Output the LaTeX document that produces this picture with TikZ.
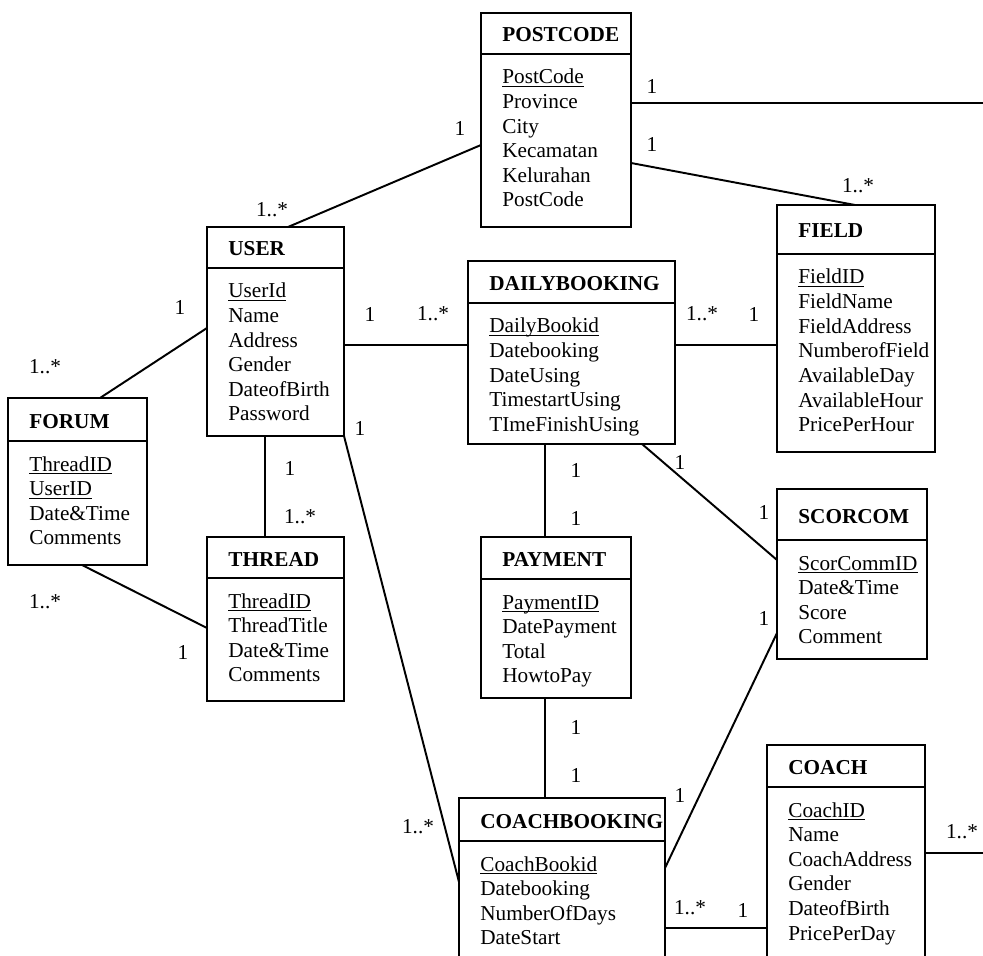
\documentclass[tikz,border=0pt]{standalone}
\usepackage{fontspec}
\setmainfont{Liberation Serif}
\usetikzlibrary{calc}
\usetikzlibrary{fit}

\newcommand{\erfont}{\fontsize{12}{14}\selectfont}
\newcommand{\keyattr}[1]{\underline{\smash{#1}}}

\tikzset{
  entity/.style={draw, line width=1.1pt, inner sep=0pt, outer sep=0pt},
  enttitle/.style={font=\erfont\bfseries, inner sep=0pt},
  attr/.style={font=\erfont, inner sep=0pt},
  mult/.style={font=\erfont, inner sep=0pt},
  link/.style={line width=1.1pt},
  thinlink/.style={line width=0.6pt},
}

% box: name, left, top, right, bottom, header line, title, attributes
\newcommand{\erbox}[8]{%
  \node[entity, fit={(#2,#3) (#4,#5)}] (#1) {};
  \draw[line width=1.1pt] (#2,#6) -- (#4,#6);
  \node[enttitle, anchor=base west] (#1-title) at ({#2+21},{(#3+#6)/2+8.5}) {#7};
  \foreach \a [count=\i] in {#8}
    \node[attr, anchor=base west] (#1-\i) at ({#2+21},{#6+30+24.6*(\i-1)}) {\a};
}

\begin{document}
\begin{tikzpicture}[x=0.565pt, y=-0.565pt]
\clip (0,0) rectangle (983,956);

% entities
\erbox{postcode}{481}{13}{631}{227}{54}{POSTCODE}{\keyattr{PostCode},Province,City,Kecamatan,Kelurahan,PostCode}
\erbox{field}{777}{205}{935}{452}{254}{FIELD}{\keyattr{FieldID},FieldName,FieldAddress,NumberofField,AvailableDay,AvailableHour,PricePerHour}
\erbox{user}{207}{227}{344}{436}{268}{USER}{\keyattr{UserId},Name,Address,Gender,DateofBirth,Password}
\erbox{daily}{468}{261}{675}{444}{303}{DAILYBOOKING}{\keyattr{DailyBookid},Datebooking,DateUsing,TimestartUsing,TImeFinishUsing}
\erbox{forum}{8}{398}{147}{565}{441}{FORUM}{\keyattr{ThreadID},\keyattr{UserID},Date\&Time,Comments}
\erbox{thread}{207}{537}{344}{701}{578}{THREAD}{\keyattr{ThreadID},ThreadTitle,Date\&Time,Comments}
\erbox{payment}{481}{537}{631}{698}{579}{PAYMENT}{\keyattr{PaymentID},DatePayment,Total,HowtoPay}
\erbox{scorcom}{777}{489}{927}{659}{540}{SCORCOM}{\keyattr{ScorCommID},Date\&Time,Score,Comment}
\erbox{coachbook}{459}{798}{665}{990}{841}{COACHBOOKING}{\keyattr{CoachBookid},Datebooking,NumberOfDays,DateStart}
\erbox{coach}{767}{745}{925}{990}{787}{COACH}{\keyattr{CoachID},Name,CoachAddress,Gender,DateofBirth,PricePerDay}

% free ends at the right edge
\coordinate (pcend) at (983,103);
\coordinate (coachend) at (983,853);

% relations
\draw[link] ($(postcode.north east)+(0,90)$) -- (pcend);
\draw[link] ($(postcode.north east)+(0,150)$) -- ($(field.north west)+(78,0)$);
\draw[link] ($(user.north west)+(81,0)$) -- ($(postcode.north west)+(0,132)$);
\draw[link] ($(user.north west)+(0,101)$) -- ($(forum.north west)+(92,0)$);
\draw[thinlink] ($(user.north east)+(0,118)$) -- ($(daily.north west)+(0,84)$);
\draw[link] ($(user.south west)+(58,0)$) -- ($(thread.north west)+(58,0)$);
\draw[link] ($(forum.south west)+(74,0)$) -- ($(thread.north west)+(0,91)$);
\draw[link] (user.south east) -- ($(coachbook.north west)+(0,84)$);
\draw[link] ($(daily.north east)+(0,84)$) -- ($(field.north west)+(0,140)$);
\draw[link] ($(daily.south west)+(77,0)$) -- ($(payment.north west)+(64,0)$);
\draw[link] ($(daily.south west)+(174,0)$) -- ($(scorcom.north west)+(0,71)$);
\draw[link] ($(payment.south west)+(64,0)$) -- ($(coachbook.north west)+(86,0)$);
\draw[link] ($(coachbook.north east)+(0,70)$) -- ($(scorcom.north west)+(0,144)$);
\draw[link] ($(coachbook.north east)+(0,130)$) -- ($(coach.north west)+(0,183)$);
\draw[link] ($(coach.north east)+(0,108)$) -- (coachend);

% multiplicities
\node[mult] (m-pc-r) at (652,86) {1};
\node[mult] (m-pc-f) at (652,144) {1};
\node[mult] (m-f-pc) at (858,186) {1..*};
\node[mult] (m-pc-u) at (460,128) {1};
\node[mult] (m-u-pc) at (272,210) {1..*};
\node[mult] (m-u-fo) at (180,307) {1};
\node[mult] (m-fo-u) at (45,367) {1..*};
\node[mult] (m-u-d) at (370,314) {1};
\node[mult] (m-d-u) at (433,314) {1..*};
\node[mult] (m-u-cb) at (360,428) {1};
\node[mult] (m-u-t) at (290,468) {1};
\node[mult] (m-t-u) at (300,517) {1..*};
\node[mult] (m-fo-t) at (45,602) {1..*};
\node[mult] (m-t-fo) at (183,652) {1};
\node[mult] (m-d-f) at (702,314) {1..*};
\node[mult] (m-f-d) at (754,314) {1};
\node[mult] (m-d-p) at (576,470) {1};
\node[mult] (m-p-d) at (576,518) {1};
\node[mult] (m-d-s) at (680,462) {1};
\node[mult] (m-s-d) at (764,512) {1};
\node[mult] (m-s-cb) at (764,618) {1};
\node[mult] (m-p-cb) at (576,727) {1};
\node[mult] (m-cb-p) at (576,775) {1};
\node[mult] (m-cb-s) at (680,795) {1};
\node[mult] (m-cb-u) at (418,827) {1..*};
\node[mult] (m-cb-c) at (690,908) {1..*};
\node[mult] (m-c-cb) at (743,910) {1};
\node[mult] (m-c-r) at (962,832) {1..*};
\end{tikzpicture}
\end{document}
